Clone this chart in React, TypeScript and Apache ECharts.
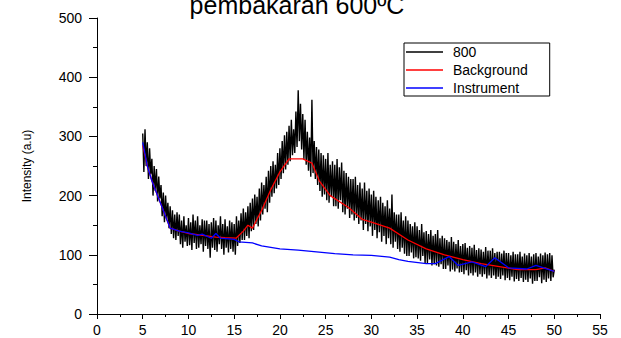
import React, { useEffect, useRef } from "react";
import * as echarts from "echarts";

const xStart = 5;
const xStep = 0.125;
const measured = [
  305, 240, 312, 250, 290, 228, 280, 236,
  262, 200, 250, 208, 245, 190, 232, 195,
  218, 165, 205, 155, 200, 160, 188, 145,
  182, 135, 175, 128, 168, 125, 172, 132,
  168, 118, 158, 112, 165, 122, 150, 115,
  162, 116, 155, 108, 168, 120, 158, 110,
  165, 112, 150, 118, 160, 105, 158, 115,
  158, 110, 152, 95, 155, 112, 162, 108,
  158, 105, 150, 118, 165, 110, 152, 100,
  160, 112, 148, 104, 158, 110, 155, 105,
  152, 100, 165, 115, 158, 120, 170, 125,
  178, 125, 172, 132, 182, 128, 188, 140,
  195, 142, 202, 152, 198, 148, 212, 158,
  222, 168, 218, 178, 232, 172, 242, 188,
  250, 198, 258, 204, 252, 212, 272, 218,
  280, 228, 292, 238, 302, 244, 308, 252,
  318, 258, 328, 268, 312, 272, 342, 282,
  378, 292, 355, 278, 338, 262, 328, 252,
  308, 242, 298, 232, 362, 238, 292, 228,
  282, 218, 278, 208, 272, 198, 268, 202,
  262, 192, 272, 188, 252, 198, 258, 182,
  252, 182, 262, 178, 248, 192, 256, 172,
  242, 168, 238, 178, 232, 162, 228, 168,
  228, 158, 232, 162, 218, 152, 222, 158,
  212, 142, 222, 152, 208, 140, 212, 148,
  202, 132, 208, 142, 198, 128, 192, 138,
  198, 122, 188, 132, 182, 118, 192, 128,
  178, 118, 202, 112, 172, 122, 168, 110,
  168, 105, 172, 112, 158, 102, 165, 98,
  158, 98, 152, 104, 148, 94, 155, 96,
  148, 94, 142, 90, 152, 98, 138, 86,
  140, 86, 135, 92, 142, 82, 132, 84,
  135, 82, 142, 80, 128, 84, 132, 76,
  128, 76, 125, 82, 122, 72, 130, 75,
  122, 72, 118, 77, 125, 70, 115, 71,
  118, 67, 120, 74, 112, 65, 115, 69,
  112, 65, 117, 70, 108, 63, 111, 67,
  109, 63, 105, 67, 113, 60, 107, 65,
  107, 61, 111, 65, 103, 59, 105, 63,
  105, 59, 102, 65, 107, 57, 103, 61,
  103, 57, 99, 63, 105, 55, 101, 59,
  101, 56, 105, 61, 97, 54, 102, 58,
  99, 54, 103, 60, 97, 51, 101, 56,
  103, 56, 97, 62, 102, 52, 99, 58,
  104, 54, 101, 60, 103, 56, 99, 62,
  75,
];

const backgroundX = [5, 5.5, 6, 7, 8, 9, 10, 12, 13, 14, 15.2, 16, 16.5, 17, 18, 19, 20, 21, 22.5, 23.5, 24.3, 25.5, 27.5, 29, 30, 32, 34, 36, 37, 38, 40, 42, 44, 46, 48, 49, 50];
const backgroundY = [285, 250, 225, 185, 145, 140, 136, 132, 130, 129, 128, 140, 150, 145, 175, 210, 240, 262, 262, 255, 225, 200, 180, 160, 155, 145, 125, 110, 105, 100, 92, 85, 80, 75, 75, 78, 72];

const instrumentX = [5, 5.5, 6, 7, 8, 9, 10, 11, 11.5, 12.5, 13, 13.5, 15, 15.5, 17, 18, 20, 22, 24, 26, 28, 30, 32, 33, 34, 36, 37, 38.5, 39.5, 41, 42.5, 43.5, 45, 47, 48, 50];
const instrumentY = [290, 250, 225, 185, 145, 140, 137, 133, 135, 128, 136, 128, 126, 122, 120, 115, 110, 108, 105, 102, 100, 99, 96, 92, 89, 85, 85, 97, 82, 88, 80, 95, 78, 76, 82, 72];

const xTicks = { min: 0, max: 55, interval: 5 };
const yTicks = { min: 0, max: 500, interval: 100 };

const titleText = "pembakaran 600ºC";
const yName = "Intensity (a.u)";
const seriesNames = ["800", "Background", "Instrument"];

export default function App() {
  const ref = useRef<HTMLDivElement>(null);
  useEffect(() => {
    if (!ref.current) return;
    const chart = echarts.init(ref.current, undefined, { renderer: "svg" });
    const font = "Liberation Sans, Arial, sans-serif";
    const axisLineStyle = { color: "#000", width: 1 };
    chart.setOption({
      animation: false,
      backgroundColor: "#fff",
      title: {
        text: titleText,
        left: 292,
        textAlign: "center",
        top: -13,
        textStyle: {
          fontSize: 25,
          fontWeight: "normal",
          color: "#000",
          fontFamily: font,
        },
      },
      legend: {
        orient: "vertical",
        left: 404,
        top: 43,
        borderColor: "#000",
        borderWidth: 1,
        padding: [2, 22, 1, 2],
        itemGap: 4,
        itemWidth: 37,
        itemHeight: 1.5,
        icon: "rect",
        textStyle: { fontSize: 14, color: "#000", fontFamily: font, padding: [0, 0, 0, 5] },
        data: seriesNames,
      },
      grid: { left: 97, right: 21, top: 18, bottom: 24, containLabel: false },
      xAxis: {
        type: "value",
        ...xTicks,
        axisLine: { show: true, onZero: false, lineStyle: axisLineStyle },
        axisTick: { show: true, inside: false, length: 5, lineStyle: axisLineStyle },
        minorTick: { show: true, splitNumber: 2, length: 3, lineStyle: axisLineStyle },
        splitLine: { show: false },
        axisLabel: { color: "#000", fontSize: 14, fontFamily: font, margin: 9 },
      },
      yAxis: {
        type: "value",
        ...yTicks,
        axisLine: { show: true, onZero: false, lineStyle: axisLineStyle },
        axisTick: { show: true, inside: false, length: 8, lineStyle: axisLineStyle },
        minorTick: { show: true, splitNumber: 2, length: 4, lineStyle: axisLineStyle },
        splitLine: { show: false },
        axisLabel: { color: "#000", fontSize: 14, fontFamily: font, margin: 15 },
        name: yName,
        nameLocation: "middle",
        nameGap: 64,
        nameTextStyle: { fontSize: 12, color: "#000", fontFamily: font },
      },
      series: [
        {
          name: seriesNames[0],
          type: "line",
          data: measured.map((v, i) => [xStart + i * xStep, v]),
          showSymbol: false,
          lineStyle: { color: "#000", width: 1.4 },
          itemStyle: { color: "#000" },
        },
        {
          name: seriesNames[1],
          type: "line",
          data: backgroundX.map((x, i) => [x, backgroundY[i]]),
          showSymbol: false,
          lineStyle: { color: "#ff0000", width: 1.3 },
          itemStyle: { color: "#ff0000" },
        },
        {
          name: seriesNames[2],
          type: "line",
          data: instrumentX.map((x, i) => [x, instrumentY[i]]),
          showSymbol: false,
          lineStyle: { color: "#0000ff", width: 1.3 },
          itemStyle: { color: "#0000ff" },
        },
      ],
    });
    return () => chart.dispose();
  }, []);
  return <div ref={ref} style={{ width: 621, height: 338, position: "absolute", left: 0, top: 0 }} />;
}
